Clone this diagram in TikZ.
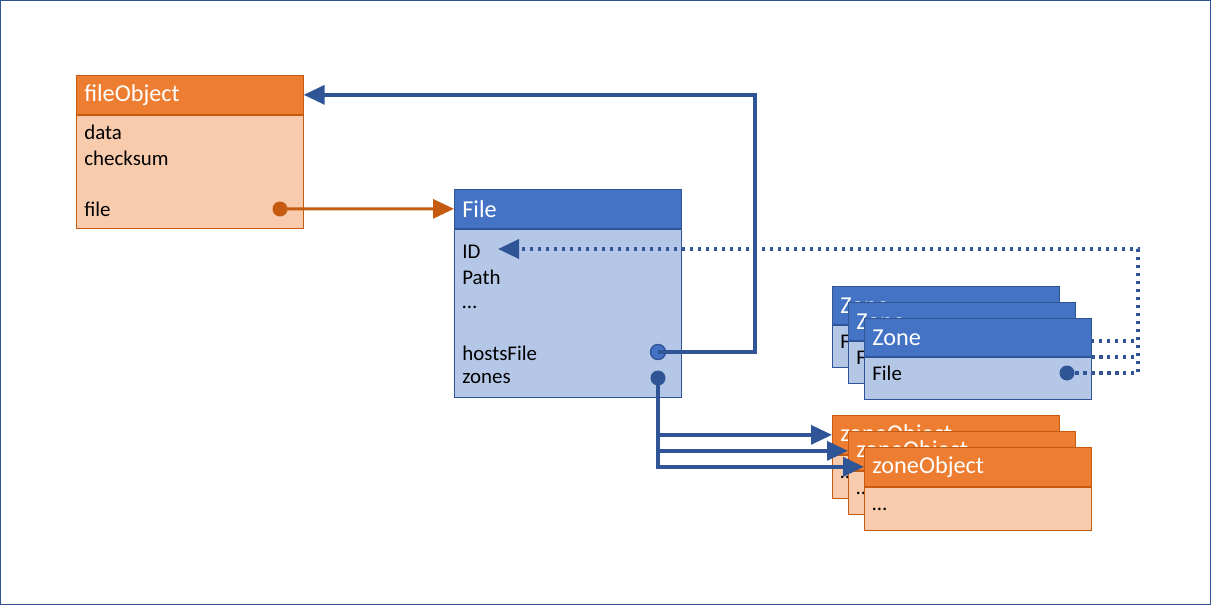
\documentclass[tikz,border=0pt]{standalone}
\usepackage{fontspec}
\setmainfont{Carlito}
\usetikzlibrary{arrows.meta,backgrounds}
\definecolor{hdrorange}{HTML}{ED7D31}
\definecolor{bodyorange}{HTML}{F8CBAD}
\definecolor{lnorange}{HTML}{C55A11}
\definecolor{hdrblue}{HTML}{4472C4}
\definecolor{bodyblue}{HTML}{B4C7E7}
\definecolor{lnblue}{HTML}{2F5597}
\tikzset{
  hdr/.style = {anchor = north west, text width = 4.22cm, inner xsep = 0.16cm, inner ysep = 0pt,
    minimum height = 0.78cm, align = left, text = white, font = \fontsize{13.8}{16}\selectfont},
  hdrO/.style = {hdr, draw = lnorange, fill = hdrorange},
  hdrB/.style = {hdr, draw = lnblue, fill = hdrblue},
  bodyO/.style = {anchor = north west, draw = lnorange, fill = bodyorange, minimum width = 4.54cm, inner sep = 0pt},
  bodyB/.style = {anchor = north west, draw = lnblue, fill = bodyblue, minimum width = 4.54cm, inner sep = 0pt},
  txt/.style = {anchor = west, inner sep = 0pt, font = \fontsize{11.9}{14}\selectfont},
  dot/.style = {circle, inner sep = 0pt, minimum size = 0.3cm},
  tip/.style = {-{Triangle[length = 0.42cm, width = 0.38cm]}},
  conB/.style = {tip, draw = lnblue, line width = 0.07cm},
  conO/.style = {tip, draw = lnorange, line width = 0.06cm},
  conD/.style = {draw = lnblue, line width = 0.07cm, dash pattern = on 0.07cm off 0.09cm}
}

\begin{document}
\begin{tikzpicture}[x = 0.02cm, y = -0.02cm]
\useasboundingbox (0,0) rectangle (1211,605);
\draw[lnblue, line width = 0.4pt] (0.5,0.5) rectangle (1210.5,604.5);

% fileObject
\node[hdrO] (foh) at (76,75) {fileObject};
\node[bodyO, minimum height = 2.26cm] (fob) at (foh.south west) {};
\node[txt] (fdata) at (84,132) {data};
\node[txt] (fsum) at (84,158) {checksum};
\node[txt] (ffile) at (84,209) {file};
\node[dot, fill = lnorange] (fd) at (280,209) {};

% File
\node[hdrB] (fh) at (454,189) {File};
\node[bodyB, minimum height = 3.36cm] (fb) at (fh.south west) {};
\node[txt] (fid) at (462,252) {ID};
\node[txt] (fpath) at (462,277) {Path};
\node[txt] (fdots) at (462,307) {\dots};
\node[txt] (fhost) at (462,353) {hostsFile};
\node[txt] (fzones) at (462,379) {zones};
\node[dot, fill = hdrblue, draw = lnblue, line width = 0.8pt] (hd) at (658,352) {};
\node[dot, fill = lnblue] (zd) at (658,378) {};
\coordinate (idin) at (498,249);

% Zone stack
\foreach \i/\dx in {1/0, 2/16, 3/32} {
  \node[hdrB, minimum height = 0.76cm] (zh\i) at (832+\dx,286+\dx) {Zone};
  \node[bodyB, minimum height = 0.84cm] (zb\i) at (zh\i.south west) {};
  \node[txt] (zf\i) at (840+\dx,341+\dx) {File};
  \node[dot, fill = lnblue] (zn\i) at (1035+\dx,341+\dx) {};
}

% zoneObject stack
\foreach \i/\dx in {1/0, 2/16, 3/32} {
  \node[hdrO] (oh\i) at (832+\dx,415+\dx) {zoneObject};
  \node[bodyO, minimum height = 0.86cm] (ob\i) at (oh\i.south west) {};
  \node[txt] (od\i) at (840+\dx,477+\dx) {\dots};
}

% connectors
\begin{pgfonlayer}{background}
\draw[conD] (zn1.center) -- (1138,341);
\draw[conD] (zn2.center) -- (1138,357);
\end{pgfonlayer}
\draw[conD, tip] (zn3.center) -- (1138,373) |- (idin);
\draw[conO] (fd.center) -- (fh.west);
\draw[conB] (hd.center) -- (755,352) |- (foh.east);
\draw[conB] (zd.center) |- (oh1.west);
\draw[conB] (zd.center) |- (oh2.west);
\draw[conB] (zd.center) |- (oh3.west);
\end{tikzpicture}
\end{document}
